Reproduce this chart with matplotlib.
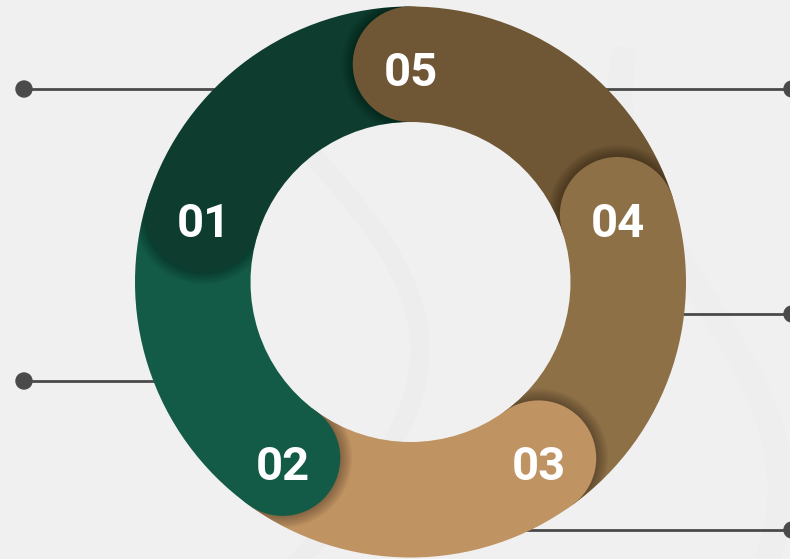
import matplotlib.pyplot as plt
from matplotlib.patches import Wedge, Circle
import numpy as np

# segments, listed clockwise starting from the top
labels = ["05", "04", "03", "02", "01"]
values = [1, 1, 1, 1, 1]
colors = ["#6f5634", "#8e7047", "#c09362", "#135b47", "#0e3d30"]

# leader lines (y positions in pixels)
left_lines = [89, 381]
right_lines = [89, 314, 530]

W, H = 790, 559
fig = plt.figure(figsize=(W / 100, H / 100), dpi=100)
fig.patch.set_facecolor("#f0f0f0")
ax = fig.add_axes([0, 0, 1, 1])
ax.set_xlim(0, W)
ax.set_ylim(H, 0)
ax.set_aspect("equal")
ax.axis("off")

cx, cy = 410.5, 282
r_out, r_in = 275.5, 160
r_mid = (r_out + r_in) / 2
half = (r_out - r_in) / 2

# very faint background swirls
t = np.linspace(0, 1, 200)
ax.plot(300 + 120 * np.sin(t * 3), 560 - 400 * t, color="#ebebeb", lw=14, alpha=0.5, zorder=0)
ax.plot(700 + 80 * np.sin(t * 4 + 1), 560 - 500 * t, color="#ececec", lw=18, alpha=0.4, zorder=0)

# leader lines, stopping at the ring's outer edge
line_c = "#4a4a4a"
for y in left_lines:
    xe = cx - np.sqrt(r_out ** 2 - (y - cy) ** 2) + 4
    ax.plot([24, xe], [y, y], color=line_c, lw=2, zorder=1, solid_capstyle="butt")
    ax.add_patch(Circle((24, y), 8, color=line_c, zorder=1))
for y in right_lines:
    xe = cx + np.sqrt(r_out ** 2 - (y - cy) ** 2) - 4
    ax.plot([xe, 792], [y, y], color=line_c, lw=2, zorder=1, solid_capstyle="butt")
    ax.add_patch(Circle((792, y), 8, color=line_c, zorder=1))

total = sum(values)
starts = []
a = 90.0
for v in values:
    starts.append(a)
    a -= 360.0 * v / total


def to_data(ang):
    # y axis is flipped, so angles are mirrored
    return -ang


# bodies
for i, v in enumerate(values):
    a0 = starts[i]
    a1 = a0 - 360.0 * v / total
    w = Wedge((cx, cy), r_out, to_data(a0), to_data(a1), width=r_out - r_in,
              facecolor=colors[i], edgecolor="none", zorder=2)
    ax.add_patch(w)

# shadows and rounded caps
for i, v in enumerate(values):
    a0 = starts[i]
    pa0 = starts[(i - 1) % len(values)]
    th = np.deg2rad(a0)
    px = cx + r_mid * np.cos(th)
    py = cy - r_mid * np.sin(th)
    clip = Wedge((cx, cy), r_out, to_data(pa0), to_data(a0), width=r_out - r_in,
                 transform=ax.transData, facecolor="none", edgecolor="none")
    ax.add_patch(clip)
    for k in range(1, 11):
        s = Circle((px, py), half + k * 1.2, facecolor="black", alpha=0.03,
                   edgecolor="none", zorder=3)
        ax.add_patch(s)
        s.set_clip_path(clip)
    ax.add_patch(Circle((px, py), half, facecolor=colors[i], edgecolor="none", zorder=4))
    ax.text(px, py + 9, labels[i], color="white", fontsize=34, fontweight="bold",
            family=["Roboto", "DejaVu Sans"], ha="center", va="center", zorder=5)

fig.savefig("out.png", dpi=100, facecolor=fig.get_facecolor())
